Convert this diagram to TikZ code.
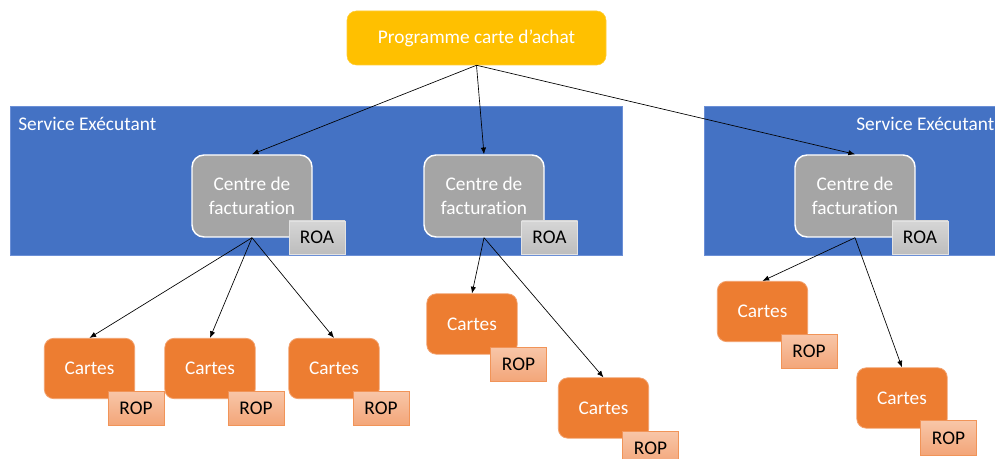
\documentclass[tikz,border=0pt]{standalone}
\usepackage{fontspec}
\setmainfont{Carlito}[Ligatures=NoCommon]
\usetikzlibrary{fit,arrows.meta}
\definecolor{progcol}{HTML}{FFC000}
\definecolor{servcol}{HTML}{4472C4}
\definecolor{servedge}{HTML}{6B8FD6}
\definecolor{centcol}{HTML}{A5A5A5}
\definecolor{cartcol}{HTML}{ED7D31}
\definecolor{cartedge}{HTML}{F2A06C}
\definecolor{roptop}{HTML}{F8C6A8}
\definecolor{ropbot}{HTML}{F3A578}
\definecolor{ropedge}{HTML}{F19458}
\definecolor{roatop}{HTML}{D6D6D6}
\definecolor{roabot}{HTML}{BDBDBD}
\definecolor{roaedge}{HTML}{E2E2E2}
\tikzset{
  txt/.style={font=\fontsize{14.5}{18}\selectfont, inner sep=0pt},
  progbox/.style={txt, fill=progcol, draw=progcol!80!white, rounded corners=7pt, text=white,
    minimum width=194.25pt, minimum height=40.5pt},
  servbox/.style={txt, fill=servcol, draw=servedge, line width=0.6pt},
  servlabel/.style={txt, text=white},
  centbox/.style={txt, fill=centcol, draw=white, line width=1.1pt, rounded corners=9pt, text=white, align=center,
    minimum width=90pt, minimum height=61.5pt},
  roabox/.style={txt, top color=roatop, bottom color=roabot, draw=roaedge, line width=0.6pt, text=black,
    minimum width=42pt, minimum height=24.75pt},
  cartbox/.style={txt, fill=cartcol, draw=cartedge, line width=0.6pt, rounded corners=7pt, text=white,
    minimum width=67.75pt, minimum height=45.25pt},
  ropbox/.style={txt, top color=roptop, bottom color=ropbot, draw=ropedge, line width=0.6pt, text=black,
    minimum width=42pt, minimum height=26pt},
  conn/.style={draw=black, line width=0.5pt, -{Latex[length=5pt,width=4pt]}}
}
\begin{document}
\begin{tikzpicture}[x=0.75pt,y=-0.75pt]
\clip (0,0) rectangle (995,459);
\fill[white] (0,0) rectangle (995,459);

% service containers
\node[servbox, fit={(10,106) (622,255)}] (serv1) {};
\node[servbox, fit={(704,106) (1002,255)}] (serv2) {};
\node[servlabel, anchor=west] (servlab1) at (18,124) {Service Exécutant};
\node[servlabel, anchor=west] (servlab2) at (856,124) {Service Exécutant};

% top programme
\node[progbox] (prog) at (476.5,38) {Programme carte d’achat};

% centres
\node[centbox] (cent1) at (252,196) {Centre de\\facturation};
\node[centbox] (cent2) at (484,196) {Centre de\\facturation};
\node[centbox] (cent3) at (855,196) {Centre de\\facturation};
\node[roabox] (roa1) at (317,237.5) {ROA};
\node[roabox] (roa2) at (549.5,237.5) {ROA};
\node[roabox] (roa3) at (920,237.5) {ROA};

% cartes
\node[cartbox] (cart1) at (89.5,368.5) {Cartes};
\node[cartbox] (cart2) at (210,368.5) {Cartes};
\node[cartbox] (cart3) at (334,368.5) {Cartes};
\node[cartbox] (cart4) at (472,324) {Cartes};
\node[cartbox] (cart5) at (603.5,408) {Cartes};
\node[cartbox] (cart6) at (762.5,311.5) {Cartes};
\node[cartbox] (cart7) at (902,398) {Cartes};

\node[ropbox] (rop1) at (136,408.5) {ROP};
\node[ropbox] (rop2) at (256,408.5) {ROP};
\node[ropbox] (rop3) at (381,408.5) {ROP};
\node[ropbox] (rop4) at (518.5,364.5) {ROP};
\node[ropbox] (rop5) at (650.5,448.5) {ROP};
\node[ropbox] (rop6) at (809,351.5) {ROP};
\node[ropbox] (rop7) at (948.5,438) {ROP};

% connectors
\draw[conn] (prog.south) -- (cent1.north);
\draw[conn] (prog.south) -- (cent2.north);
\draw[conn] (prog.south) -- (cent3.north);
\draw[conn] (cent1.south) -- (cart1.north);
\draw[conn] (cent1.south) -- (cart2.north);
\draw[conn] (cent1.south) -- (cart3.north);
\draw[conn] (cent2.south) -- (cart4.north);
\draw[conn] (cent2.south) -- (cart5.north);
\draw[conn] (cent3.south) -- (cart6.north);
\draw[conn] (cent3.south) -- (cart7.north);
\end{tikzpicture}
\end{document}
